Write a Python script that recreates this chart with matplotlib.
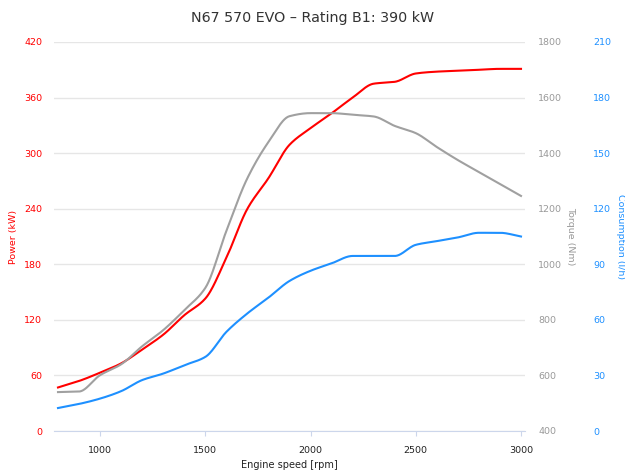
import numpy as np
import matplotlib
matplotlib.use("Agg")
import matplotlib.pyplot as plt

rpm = [800, 900, 1000, 1100, 1200, 1300, 1400, 1500, 1600, 1700, 1800, 1900,
       2000, 2100, 2200, 2300, 2400, 2500, 2600, 2700, 2800, 2900, 3000]
power = [47, 54, 63, 73, 88, 104, 125, 143, 187, 240, 273, 309,
         327, 343, 360, 375, 377, 386, 388, 389, 390, 391, 391]
torque = [540, 542, 601, 640, 705, 763, 835, 915, 1120, 1310, 1440, 1533,
          1544, 1544, 1538, 1532, 1498, 1472, 1422, 1375, 1332, 1289, 1246]
consumption = [12.4, 14.6, 17.5, 21.5, 27.5, 31, 35.5, 40, 53.5, 63.5, 72, 81,
               86.5, 90.5, 94.5, 94.5, 94.5, 100.5, 102.5, 104.5, 107, 107, 105]

power_ticks = [0, 60, 120, 180, 240, 300, 360, 420]
torque_ticks = [400, 600, 800, 1000, 1200, 1400, 1600, 1800]
cons_ticks = [0, 30, 60, 90, 120, 150, 180, 210]
x_ticks = [1000, 1500, 2000, 2500, 3000]

RED = "#ff0000"
GRAY = "#a0a0a0"
BLUE = "#1e90ff"


def smooth(xs, ys, n=25):
    """Monotone cubic (Fritsch-Carlson) rendering through the data points."""
    x = np.asarray(xs, float)
    y = np.asarray(ys, float)
    h = np.diff(x)
    d = np.diff(y) / h
    m = np.zeros_like(y)
    m[0], m[-1] = d[0], d[-1]
    for i in range(1, len(y) - 1):
        if d[i - 1] * d[i] <= 0:
            m[i] = 0
        else:
            w1 = 2 * h[i] + h[i - 1]
            w2 = h[i] + 2 * h[i - 1]
            m[i] = (w1 + w2) / (w1 / d[i - 1] + w2 / d[i])
    ox, oy = [], []
    for i in range(len(x) - 1):
        t = np.linspace(0, 1, n, endpoint=False)
        h00 = 2 * t**3 - 3 * t**2 + 1
        h10 = t**3 - 2 * t**2 + t
        h01 = -2 * t**3 + 3 * t**2
        h11 = t**3 - t**2
        ox.extend(x[i] + t * h[i])
        oy.extend(h00 * y[i] + h10 * h[i] * m[i] + h01 * y[i + 1] + h11 * h[i] * m[i + 1])
    ox.append(x[-1])
    oy.append(y[-1])
    return np.array(ox), np.array(oy)


fig = plt.figure(figsize=(6.25, 4.73), dpi=100)
ax = fig.add_axes([54 / 625, 42 / 473, 471 / 625, 389 / 473])
ax2 = ax.twinx()
ax3 = ax.twinx()

for a in (ax, ax2, ax3):
    for s in a.spines.values():
        s.set_visible(False)

ax.set_xlim(781, 3019)
ax.set_ylim(0, 420)
ax2.set_ylim(400, 1800)
ax3.set_ylim(0, 210)

ax.set_yticks(power_ticks)
ax2.set_yticks(torque_ticks)
ax3.set_yticks(cons_ticks)
ax.set_xticks(x_ticks)

ax.grid(axis="y", color="#e6e6e6", lw=1)
ax.set_axisbelow(True)
ax.spines["bottom"].set_visible(True)
ax.spines["bottom"].set_color("#ccd6eb")
ax.tick_params(axis="x", length=3.6, color="#ccd6eb", labelsize=6.8,
               labelcolor="#222222", pad=7.5)
ax.tick_params(axis="y", length=0, labelsize=6.8, labelcolor=RED, pad=8.6)
ax2.tick_params(axis="y", length=0, labelsize=6.8, labelcolor="#999999", pad=9.4)
ax3.tick_params(axis="y", length=0, labelsize=6.8, labelcolor=BLUE, pad=49)
for lab in ax2.get_yticklabels() + ax3.get_yticklabels():
    lab.set_horizontalalignment("left")

x, y = smooth(rpm, power)
ax.plot(x, y, color=RED, lw=1.5, zorder=3)
x, y = smooth(rpm, torque)
ax2.plot(x, y, color=GRAY, lw=1.5)
x, y = smooth(rpm, consumption)
ax3.plot(x, y, color=BLUE, lw=1.5)

ax.set_xlabel("Engine speed [rpm]", fontsize=7, color="#222222", labelpad=3)
ax.set_ylabel("Power (kW)", fontsize=6.8, color=RED, va="center")
ax.yaxis.set_label_coords(-0.085, 0.5)
ax2.set_ylabel("Torque (Nm)", fontsize=6.8, color="#999999", rotation=270,
               va="center")
ax2.yaxis.set_label_coords(1.0977, 0.5)
ax3.set_ylabel("Consumption (l/h)", fontsize=6.8, color=BLUE, rotation=270,
               va="center")
ax3.yaxis.set_label_coords(1.2017, 0.5)

fig.text(0.5, 1 - 18 / 473, "N67 570 EVO \u2013 Rating B1: 390 kW", ha="center",
         va="center", fontsize=10.3, color="#333333")

fig.savefig("out.png", dpi=100, facecolor="white")
